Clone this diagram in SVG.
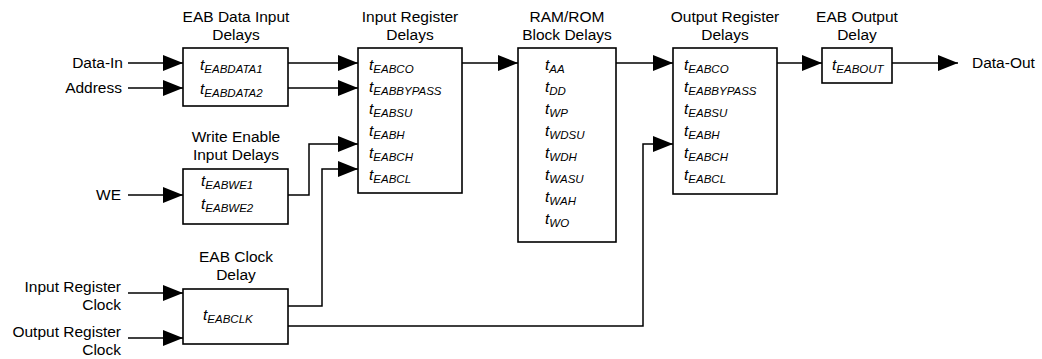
<svg xmlns="http://www.w3.org/2000/svg" width="1042" height="359" viewBox="0 0 1042 359">
<style>
text{font-family:"Liberation Sans",Arial,sans-serif;fill:#000}
.lbl{font-size:15.5px}
.mid{text-anchor:middle}
.end{text-anchor:end}
.t{font-size:15.5px;font-style:italic}
.s{font-size:11.5px}
.box{fill:#fff;stroke:#000;stroke-width:1.6}
.w{fill:none;stroke:#000;stroke-width:1.5}
.a{marker-end:url(#ah)}
</style>
<defs>
<marker id="ah" markerUnits="userSpaceOnUse" markerWidth="20" markerHeight="16" refX="20" refY="8" orient="auto" viewBox="0 0 20 16">
<path d="M0,0 L20,8 L0,16 z" fill="#000"/>
</marker>
</defs>
<rect width="1042" height="359" fill="#fff"/>
<g id="connectors">
<path class="w a" d="M128,63 H183"/>
<path class="w a" d="M128,88 H183"/>
<path class="w a" d="M288,63 H358"/>
<path class="w a" d="M288,88 H358"/>
<path class="w a" d="M128,195 H183"/>
<path class="w a" d="M288,195 H309 V144 H358"/>
<path class="w a" d="M128,293 H183"/>
<path class="w a" d="M128,338 H183"/>
<path class="w a" d="M288,306 H322 V169 H358"/>
<path class="w a" d="M288,326 H643 V144 H673"/>
<path class="w a" d="M462,63 H518"/>
<path class="w a" d="M616,63 H673"/>
<path class="w a" d="M777,63 H822"/>
<path class="w a" d="M892,63 H958"/>
</g>
<g id="labels">
<text class="lbl end" x="123" y="68">Data-In</text>
<text class="lbl end" x="122" y="93">Address</text>
<text class="lbl end" x="121" y="200">WE</text>
<text class="lbl end" x="121" y="292">Input Register</text>
<text class="lbl end" x="121" y="310">Clock</text>
<text class="lbl end" x="121" y="337">Output Register</text>
<text class="lbl end" x="121" y="355">Clock</text>
<text class="lbl" x="972" y="68">Data-Out</text>
</g>
<g id="eab-data-input">
<text class="lbl mid" x="236" y="22">EAB Data Input</text>
<text class="lbl mid" x="236" y="40">Delays</text>
<rect class="box" x="183" y="48" width="105" height="58"/>
<text class="t" x="200" y="70">t<tspan class="s" dy="3">EABDATA1</tspan></text>
<text class="t" x="200" y="94">t<tspan class="s" dy="3">EABDATA2</tspan></text>
</g>
<g id="write-enable">
<text class="lbl mid" x="236" y="142">Write Enable</text>
<text class="lbl mid" x="236" y="160">Input Delays</text>
<rect class="box" x="183" y="169" width="105" height="55"/>
<text class="t" x="201" y="186">t<tspan class="s" dy="3">EABWE1</tspan></text>
<text class="t" x="201" y="209">t<tspan class="s" dy="3">EABWE2</tspan></text>
</g>
<g id="eab-clock">
<text class="lbl mid" x="236" y="262">EAB Clock</text>
<text class="lbl mid" x="236" y="280">Delay</text>
<rect class="box" x="183" y="289" width="105" height="55"/>
<text class="t" x="203" y="320">t<tspan class="s" dy="3">EABCLK</tspan></text>
</g>
<g id="input-register">
<text class="lbl mid" x="410" y="22">Input Register</text>
<text class="lbl mid" x="410" y="40">Delays</text>
<rect class="box" x="358" y="48" width="104" height="145"/>
<text class="t" x="369" y="70">t<tspan class="s" dy="3">EABCO</tspan></text>
<text class="t" x="369" y="92">t<tspan class="s" dy="3">EABBYPASS</tspan></text>
<text class="t" x="369" y="114">t<tspan class="s" dy="3">EABSU</tspan></text>
<text class="t" x="369" y="136">t<tspan class="s" dy="3">EABH</tspan></text>
<text class="t" x="369" y="158">t<tspan class="s" dy="3">EABCH</tspan></text>
<text class="t" x="369" y="180">t<tspan class="s" dy="3">EABCL</tspan></text>
</g>
<g id="ram-rom">
<text class="lbl mid" x="567" y="22">RAM/ROM</text>
<text class="lbl mid" x="567" y="40">Block Delays</text>
<rect class="box" x="518" y="48" width="98" height="194"/>
<text class="t" x="545" y="70">t<tspan class="s" dy="3">AA</tspan></text>
<text class="t" x="545" y="92">t<tspan class="s" dy="3">DD</tspan></text>
<text class="t" x="545" y="114">t<tspan class="s" dy="3">WP</tspan></text>
<text class="t" x="545" y="136">t<tspan class="s" dy="3">WDSU</tspan></text>
<text class="t" x="545" y="158">t<tspan class="s" dy="3">WDH</tspan></text>
<text class="t" x="545" y="180">t<tspan class="s" dy="3">WASU</tspan></text>
<text class="t" x="545" y="202">t<tspan class="s" dy="3">WAH</tspan></text>
<text class="t" x="545" y="224">t<tspan class="s" dy="3">WO</tspan></text>
</g>
<g id="output-register">
<text class="lbl mid" x="725" y="22">Output Register</text>
<text class="lbl mid" x="725" y="40">Delays</text>
<rect class="box" x="673" y="48" width="104" height="146"/>
<text class="t" x="684" y="70">t<tspan class="s" dy="3">EABCO</tspan></text>
<text class="t" x="684" y="92">t<tspan class="s" dy="3">EABBYPASS</tspan></text>
<text class="t" x="684" y="114">t<tspan class="s" dy="3">EABSU</tspan></text>
<text class="t" x="684" y="136">t<tspan class="s" dy="3">EABH</tspan></text>
<text class="t" x="684" y="158">t<tspan class="s" dy="3">EABCH</tspan></text>
<text class="t" x="684" y="180">t<tspan class="s" dy="3">EABCL</tspan></text>
</g>
<g id="eab-output">
<text class="lbl mid" x="857" y="22">EAB Output</text>
<text class="lbl mid" x="857" y="40">Delay</text>
<rect class="box" x="822" y="48" width="70" height="35"/>
<text class="t" x="832" y="70">t<tspan class="s" dy="3">EABOUT</tspan></text>
</g>
</svg>
